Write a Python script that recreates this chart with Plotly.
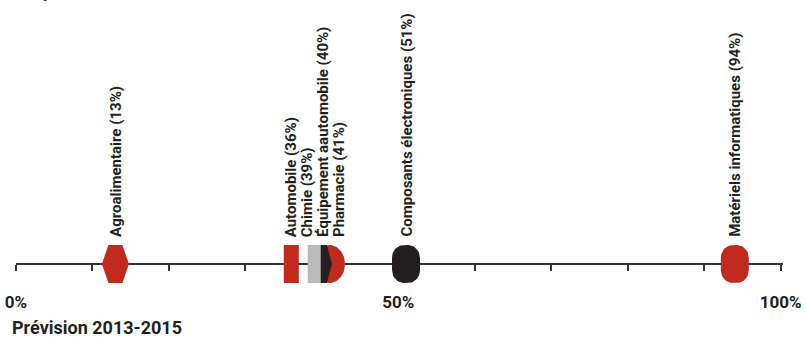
import numpy as np
import plotly.graph_objects as go

# Données : secteurs et valeurs (%) de la prévision 2013-2015
secteurs = ["Agroalimentaire", "Automobile", "Chimie", "Équipement aautomobile",
            "Pharmacie", "Composants électroniques", "Matériels informatiques"]
valeurs = [13, 36, 39, 40, 41, 51, 94]
tick_vals = list(range(0, 101, 10))
tick_text = ["0%", "", "", "", "", "50%", "", "", "", "", "100%"]

# Style de chaque repère
ROUGE, GRIS, NOIR = "#c1291c", "#b9babc", "#231f20"
couleurs = [ROUGE, ROUGE, GRIS, NOIR, ROUGE, NOIR, ROUGE]
formes = ["hexagone", "rect", "rect_etroit", "hexagone_etroit", "ellipse", "arrondi", "arrondi"]
decalage_etiquette = [0, 0, -7, 1, 9, 0, 0]
ordre_dessin = [0, 1, 4, 3, 2, 5, 6]

W, H = 805, 345
ML, MR = 16, 22
X_MAX = 100.3
PX = (W - ML - MR) / X_MAX          # pixels par point de pourcentage
Y_BAS = -(H - 264)                   # l'axe se trouve à 264 px du haut


def contour(forme):
    """Contour d'un repère en pixels, centré sur (0, 0)."""
    hh = 19
    if forme == "hexagone":
        p = [(-13.5, 0), (-7, hh), (7, hh), (13.5, 0), (7, -hh), (-7, -hh)]
    elif forme == "hexagone_etroit":
        p = [(-10, 0), (-5, hh), (5, hh), (10, 0), (5, -hh), (-5, -hh)]
    elif forme == "rect":
        p = [(-7.5, -hh), (-7.5, hh), (7.5, hh), (7.5, -hh)]
    elif forme == "rect_etroit":
        p = [(-6.5, -hh), (-6.5, hh), (6.5, hh), (6.5, -hh)]
    elif forme == "ellipse":
        t = np.linspace(0, 2 * np.pi, 72)
        p = list(zip(15.5 * np.cos(t), hh * np.sin(t)))
    else:  # rectangle arrondi
        hw, rx, ry = 14, 12, 13
        p = []
        for cx, cy, a0 in [(hw - rx, hh - ry, 0), (-(hw - rx), hh - ry, 90),
                           (-(hw - rx), -(hh - ry), 180), (hw - rx, -(hh - ry), 270)]:
            t = np.radians(np.linspace(a0, a0 + 90, 12))
            p += list(zip(cx + rx * np.cos(t), cy + ry * np.sin(t)))
    p = p + [p[0]]
    return [q[0] for q in p], [q[1] for q in p]


fig = go.Figure()
for i in ordre_dessin:
    dx, dy = contour(formes[i])
    fig.add_trace(go.Scatter(
        x=[valeurs[i] + d / PX for d in dx], y=dy,
        mode="lines", fill="toself", fillcolor=couleurs[i],
        line=dict(width=0), hoverinfo="skip", showlegend=False,
    ))

for i, (s, v) in enumerate(zip(secteurs, valeurs)):
    fig.add_annotation(
        x=v, y=0, xref="x", yref="y", text=f"{s} ({v}%)",
        textangle=-90, xanchor="center", yanchor="bottom",
        yshift=25, xshift=decalage_etiquette[i], showarrow=False,
        font=dict(family="Roboto", size=15, color=NOIR, weight=700),
    )

titre_font = dict(family="Roboto", size=18, color=NOIR, weight=700)
fig.add_annotation(x=0, y=(H - 3) / H, xref="paper", yref="paper",
                   text="Moyenne 2008-2012", xanchor="left", yanchor="bottom",
                   xshift=-1, showarrow=False, font=titre_font)
fig.add_annotation(x=0, y=(H - 327) / H, xref="paper", yref="paper",
                   text="Prévision 2013-2015", xanchor="left", yanchor="middle",
                   xshift=-6, showarrow=False, font=titre_font)

fig.update_layout(
    width=W, height=H,
    margin=dict(l=ML, r=MR, t=0, b=0),
    paper_bgcolor="white", plot_bgcolor="white",
    xaxis=dict(
        range=[0, X_MAX], anchor="free", position=-Y_BAS / H,
        showline=True, linecolor="#333333", linewidth=2,
        ticks="outside", ticklen=6, tickwidth=2, tickcolor="#333333",
        tickvals=tick_vals, ticktext=tick_text, ticklabelstandoff=17,
        tickfont=dict(family="Roboto", size=17, color=NOIR, weight=700),
        showgrid=False, zeroline=False, layer="below traces",
    ),
    yaxis=dict(range=[Y_BAS, H + Y_BAS], visible=False, fixedrange=True),
)

fig.write_html("out.html", config={"displayModeBar": False})
